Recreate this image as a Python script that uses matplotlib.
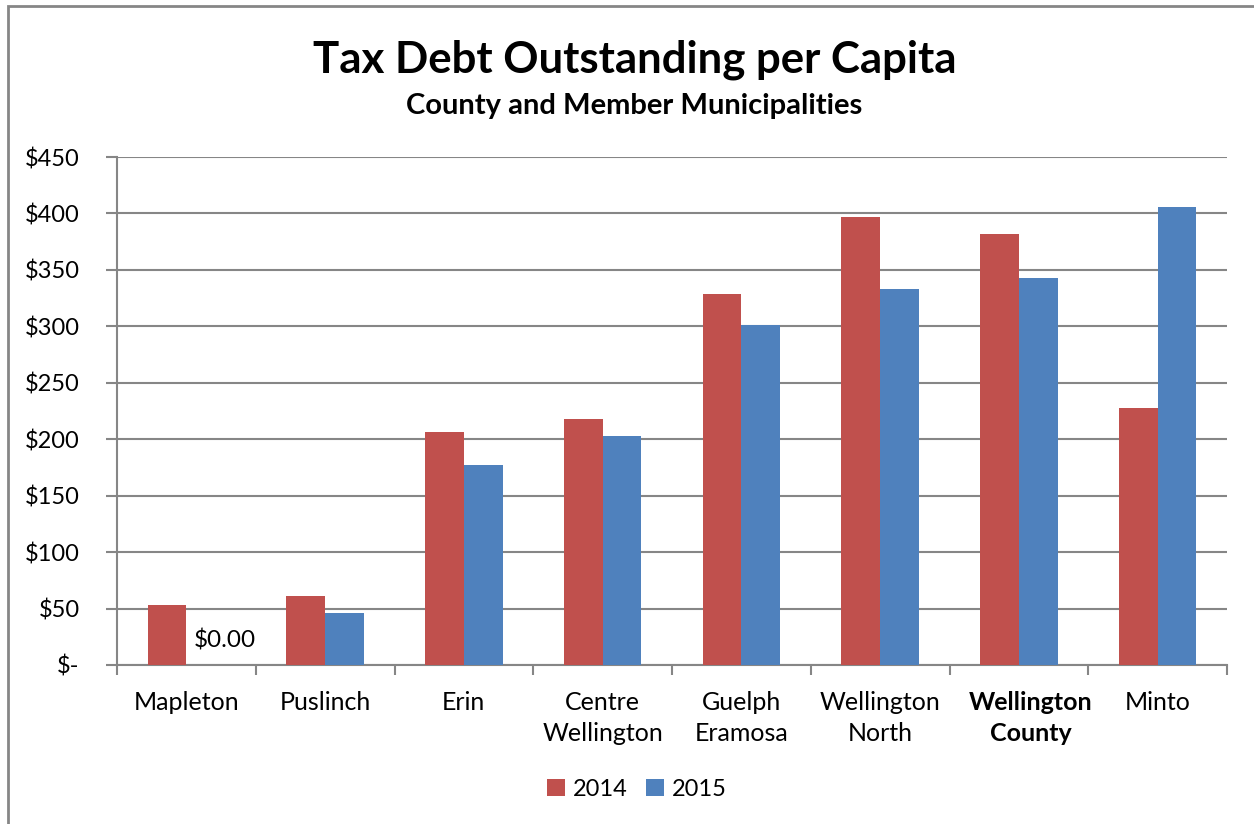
import matplotlib
matplotlib.use("Agg")
import matplotlib.pyplot as plt
import matplotlib.transforms as mtransforms
import numpy as np
from matplotlib.patches import Rectangle

categories = ["Mapleton", "Puslinch", "Erin", "Centre\nWellington", "Guelph\nEramosa",
              "Wellington\nNorth", "Wellington\nCounty", "Minto"]
values_2014 = [53, 61, 206, 218, 329, 397, 382, 228]
values_2015 = [0, 46, 177, 203, 301, 333, 343, 406]
series_labels = ["2014", "2015"]
yticks = [0, 50, 100, 150, 200, 250, 300, 350, 400, 450]
ytick_labels = ["$-", "$50", "$100", "$150", "$200", "$250", "$300", "$350", "$400", "$450"]

plt.rcParams['font.family'] = ['Lato', 'DejaVu Sans']

fig = plt.figure(figsize=(12.54, 8.24), dpi=100)
ax = fig.add_axes([117/1254, 1 - 665/824, (1227-117)/1254, (665-157)/824])

red = "#C0504D"
blue = "#4F81BD"
grid_c = "#868686"

x = np.arange(len(categories))
w = 0.28
ax.bar(x - w/2, values_2014, w, color=red, label=series_labels[0], zorder=3)
ax.bar(x + w/2, values_2015, w, color=blue, label=series_labels[1], zorder=3)

ax.set_xlim(-0.5, len(categories) - 0.5)
ax.set_ylim(0, 450)
ax.set_yticks(yticks)
ax.set_yticklabels(ytick_labels, fontsize=17)
ax.yaxis.grid(True, color=grid_c, linewidth=1.5, zorder=0)
ax.set_axisbelow(True)

ax.set_xticks(x)
ax.set_xticklabels(categories, fontsize=18, linespacing=1.38)
ax.tick_params(axis='x', length=0, pad=19)
ax.set_xticks(np.arange(-0.5, len(categories), 1), minor=True)
ax.tick_params(axis='x', which='minor', length=7, width=1.5, color=grid_c)
ax.tick_params(axis='y', length=8, width=1.5, color=grid_c, pad=19)
shift = mtransforms.ScaledTranslation(12/100, 0, fig.dpi_scale_trans)
for lbl in ax.get_xticklabels():
    if lbl.get_text().startswith("Wellington\nCounty"):
        lbl.set_fontweight('bold')
        lbl.set_transform(lbl.get_transform() + shift)

for s in ['top', 'right']:
    ax.spines[s].set_visible(False)
for s in ['left', 'bottom']:
    ax.spines[s].set_color(grid_c)
    ax.spines[s].set_linewidth(1.5)

ax.annotate("$0.00", xy=(x[0] + w/2, values_2015[0]), xytext=(14, 17.5),
            textcoords='offset points', ha='center', va='center', fontsize=17.5)

fig.text(0.506, 1 - 60/824, "Tax Debt Outstanding per Capita", ha='center', va='center',
         fontsize=31.5, fontweight='bold')
fig.text(0.506, 1 - 106/824, "County and Member Municipalities", ha='center', va='center',
         fontsize=21, fontweight='bold')

leg = fig.legend(loc='center', bbox_to_anchor=(0.508, 1 - 789/824), ncol=2, frameon=False,
                 fontsize=17, handlelength=0.75, handleheight=0.75, handletextpad=0.35,
                 columnspacing=0.75)

fig.patches.append(Rectangle((8/1254, -0.05), 1.2, 1 - 6/824 + 0.05, transform=fig.transFigure,
                             fill=False, edgecolor=grid_c, linewidth=2, zorder=0))

fig.savefig("out.png", dpi=100)
